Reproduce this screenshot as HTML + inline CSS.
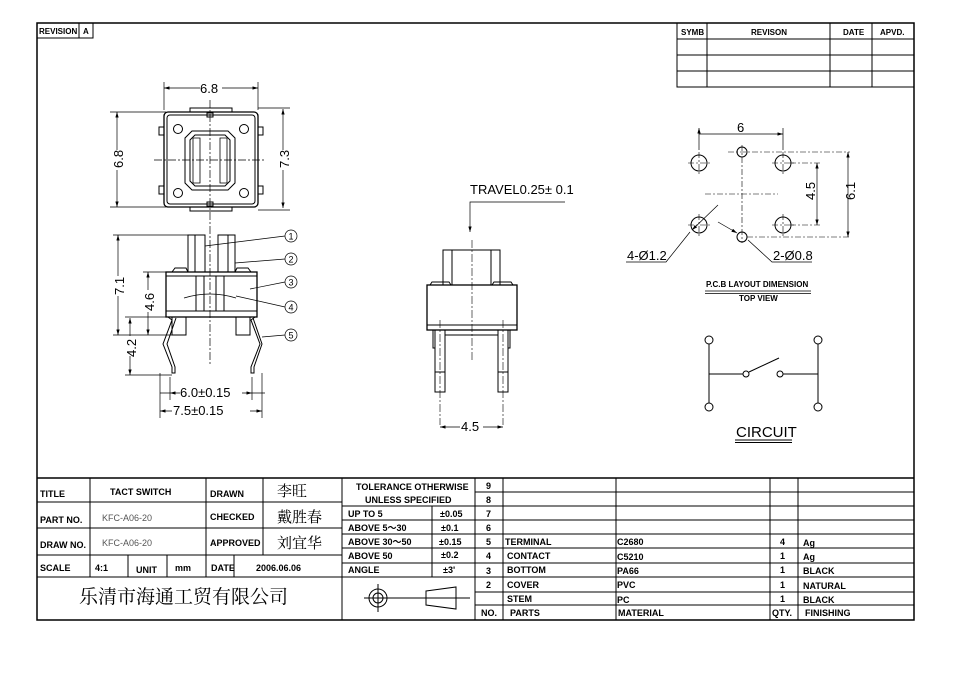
<!DOCTYPE html>
<html><head><meta charset="utf-8"><style>
html,body{margin:0;padding:0;background:#fff;}
svg{display:block;}
text{font-family:"Liberation Sans","Noto Sans CJK SC",sans-serif;fill:#000;}
.s{font-size:9px;font-weight:bold;}
.d{font-size:13px;}
</style></head><body>
<svg width="960" height="680" viewBox="0 0 960 680" xmlns="http://www.w3.org/2000/svg">
<defs>
<marker id="a" viewBox="0 0 10 6" refX="10" refY="3" markerWidth="8" markerHeight="5" orient="auto-start-reverse"><path d="M0,0L10,3L0,6z" fill="#000"/></marker>
</defs>
<g fill="none" stroke="#000">
<rect x="37" y="23" width="877" height="597" stroke-width="1.5"/>
<path d="M37,38H93V23M79,23V38"/>
<path d="M677,23V87H914M677,39H914M677,55H914M677,71H914M707,23V87M830,23V87M872,23V87"/>
<path d="M37,478H914" stroke-width="1.5"/>
<path d="M37,502H342M37,528H342M37,555H342M37,577H475"/>
<path d="M90,478V577M128,555V577M167,555V577M206,478V577M263,478V555M234,555V577M342,478V620M475,478V620"/>
<path d="M342,506H475M342,520H475M342,534H475M342,548H475M342,563H475M432,506V577"/>
<path d="M475,492H914M475,506H914M475,520H914M475,534H914M475,548H914M475,563H914M475,577H914M475,592H914M475,605H914"/>
<path d="M503,478V620M616,478V620M770,478V620M798,478V620"/>
<circle cx="378" cy="598" r="9"/><circle cx="378" cy="598" r="5"/>
<path d="M364,598H470M378,584V612M426,591L456,587V609L426,605Z"/>

<g stroke-width="1">
<rect x="164" y="112" width="94" height="95" rx="4" stroke-width="1.3"/>
<rect x="167" y="115" width="88" height="89" rx="3"/>
<path d="M190,112V108H232V112M190,207V211H232V207"/>
<rect x="159" y="127" width="5" height="8"/><rect x="258" y="127" width="5" height="8"/>
<rect x="159" y="186" width="5" height="8"/><rect x="258" y="186" width="5" height="8"/>
<rect x="207" y="113" width="6" height="4"/><rect x="207" y="202" width="6" height="4"/>
<path d="M192,131H228L235,138V183L228,190H192L185,183V138Z"/>
<path d="M195,135H225L230,140V181L225,186H195L190,181V140Z"/>
<path d="M193,138H200V183H193ZM220,138H227V183H220Z" stroke-width="0.8"/>
<circle cx="178" cy="129" r="4.5"/><circle cx="244" cy="129" r="4.5"/>
<circle cx="178" cy="193" r="4.5"/><circle cx="244" cy="193" r="4.5"/>
<path d="M154,160H265M210,100V365" stroke-dasharray="8,2,2,2" stroke-width="0.7"/>
</g>
<g stroke-width="0.7">
<path d="M164,82V110M258,82V110M110,112H166M110,207H166M258,108H290M258,210H290"/>
<path d="M164,88H200M222,88H258" marker-start="url(#a)" marker-end="url(#a)"/>
<path d="M117,112V150M117,170V207" marker-start="url(#a)" marker-end="url(#a)"/>
<path d="M283,109V150M283,170V208" marker-start="url(#a)" marker-end="url(#a)"/>
</g>
<g stroke-width="1">
<rect x="188" y="235" width="17" height="37"/><rect x="218" y="235" width="17" height="37"/>
<path d="M195,235V272M228,235V272"/>
<rect x="166" y="272" width="91" height="45" stroke-width="1.3"/>
<path d="M166,276H257M166,311H257M196,276V311M204,276V311M216,276V311M224,276V311"/>
<path d="M172,272L175,268H186L188,272M235,272L237,268H248L251,272"/>
<path d="M184,298Q210,290 236,298" stroke-width="0.7"/>
<path d="M172,317V335H186V317M236,317V335H250V317"/>
<path d="M168,317L172,320L163,344L172,367V373H175V367L167,344L176,318M255,317L251,320L260,344L251,367V373H254V367L262,344L253,318"/>
</g>
<g stroke-width="0.7">
<path d="M205,246L285,236M235,263L285,259M250,289L285,282M236,296L285,307M262,337L285,335"/>
<circle cx="291" cy="236" r="6"/><circle cx="291" cy="259" r="6"/><circle cx="291" cy="282" r="6"/><circle cx="291" cy="307" r="6"/><circle cx="291" cy="335" r="6"/>
<path d="M113,235H188M143,272H166M125,317H166M113,335H172M125,375H172"/>
<path d="M118,235V276M118,296V335" marker-start="url(#a)" marker-end="url(#a)"/>
<path d="M148,272V290M148,312V335" marker-start="url(#a)" marker-end="url(#a)"/>
<path d="M130,318V336M130,356V375" marker-start="url(#a)" marker-end="url(#a)"/>
<path d="M170,377V400M252,377V400M160,373V418M262,373V418"/>
<path d="M160,393H170M252,393H265" />
<path d="M170,393H180M242,393H252" marker-start="url(#a)" marker-end="url(#a)"/>
<path d="M160,411H172M250,411H262" marker-start="url(#a)" marker-end="url(#a)"/>
</g>
<g stroke-width="1">
<rect x="443" y="250" width="57" height="35"/><path d="M452,250V285M491,250V285"/>
<path d="M430,285L432,282H449L451,285M492,285L494,282H511L513,285"/>
<rect x="427" y="285" width="90" height="45" stroke-width="1.3"/><path d="M427,325H517"/>
<rect x="435" y="330" width="10" height="62"/><rect x="498" y="330" width="10" height="62"/>
<path d="M435,372H445M498,372H508M433,330V348H435M445,330V335H498V330M508,348H510V330"/>
<path d="M472,240V362M440,320V425M503,320V425" stroke-dasharray="8,2,2,2" stroke-width="0.6"/>
</g>
<g stroke-width="0.7">
<path d="M565,202H470V232" marker-end="url(#a)"/>
<path d="M440,427H460M483,427H503" marker-start="url(#a)" marker-end="url(#a)"/>
</g>
<g stroke-width="1">
<circle cx="699" cy="163" r="8"/><circle cx="783" cy="163" r="8"/>
<circle cx="699" cy="225" r="8"/><circle cx="783" cy="225" r="8"/>
<circle cx="742" cy="152" r="5"/><circle cx="742" cy="237" r="5"/>
</g>
<g stroke-width="0.6" stroke-dasharray="6,2,2,2">
<path d="M688,163H710M772,163H794M688,225H710M772,225H794M699,152V174M783,152V174M699,214V236M783,214V236"/>
<path d="M742,145V243M728,152H850M705,194H778M747,237H850M790,163H820M790,225H820"/>
</g>
<g stroke-width="0.7">
<path d="M699,128V150M783,128V150M699,134H783" marker-start="url(#a)" marker-end="url(#a)"/>
<path d="M817,163V225" marker-start="url(#a)" marker-end="url(#a)"/>
<path d="M848,152V237" marker-start="url(#a)" marker-end="url(#a)"/>
<path d="M718,205L692,230" marker-end="url(#a)"/>
<path d="M626,262H666L690,232"/>
<path d="M718,222L737,233" marker-end="url(#a)"/>
<path d="M748,240L772,262H812"/>
<path d="M705,291H811M705,293.5H811"/>
</g>
<g stroke-width="1">
<circle cx="709" cy="340" r="4"/><circle cx="709" cy="407" r="4"/><circle cx="818" cy="340" r="4"/><circle cx="818" cy="407" r="4"/>
<path d="M709,344V403M818,344V403M709,374H743M783,374H818M749,372L779,358"/>
<circle cx="746" cy="374" r="3"/><circle cx="780" cy="374" r="3"/>
<path d="M735,440H792M735,442.5H792"/>
</g>
</g>
<g style="font-size:9px" text-anchor="middle">
<text x="291" y="239.5">1</text><text x="291" y="262.5">2</text><text x="291" y="285.5">3</text><text x="291" y="310.5">4</text><text x="291" y="338.5">5</text>
</g>
<g class="s">
<text x="39" y="34" style="font-size:8px">REVISION</text><text x="83" y="34" style="font-size:8px">A</text>
<text x="681" y="35" style="font-size:8px">SYMB</text><text x="751" y="35" style="font-size:8px">REVISON</text><text x="843" y="35" style="font-size:8px">DATE</text><text x="880" y="35" style="font-size:8px">APVD.</text>
<text x="40" y="497">TITLE</text><text x="110" y="495">TACT SWITCH</text><text x="210" y="497">DRAWN</text>
<text x="40" y="523">PART NO.</text><text x="210" y="520">CHECKED</text>
<text x="40" y="548">DRAW NO.</text><text x="210" y="546">APPROVED</text>
<text x="40" y="571">SCALE</text><text x="95" y="571">4:1</text><text x="136" y="573">UNIT</text><text x="175" y="571">mm</text><text x="211" y="571">DATE</text><text x="256" y="571">2006.06.06</text>
<text x="356" y="490">TOLERANCE OTHERWISE</text><text x="365" y="503">UNLESS SPECIFIED</text>
<text x="348" y="517">UP TO 5</text><text x="440" y="517">±0.05</text>
<text x="348" y="531">ABOVE 5～30</text><text x="441" y="531">±0.1</text>
<text x="348" y="545">ABOVE 30～50</text><text x="439" y="545">±0.15</text>
<text x="348" y="559">ABOVE 50</text><text x="441" y="558">±0.2</text>
<text x="348" y="573">ANGLE</text><text x="443" y="573">±3'</text>
<text x="486" y="489">9</text><text x="486" y="503">8</text><text x="486" y="517">7</text><text x="486" y="531">6</text><text x="486" y="545">5</text><text x="486" y="559">4</text><text x="486" y="574">3</text><text x="486" y="588">2</text><text x="481" y="616">NO.</text>
<text x="505" y="545">TERMINAL</text><text x="507" y="559">CONTACT</text><text x="507" y="573">BOTTOM</text><text x="507" y="588">COVER</text><text x="507" y="602">STEM</text><text x="510" y="616">PARTS</text>
<text x="617" y="545">C2680</text><text x="617" y="560">C5210</text><text x="617" y="574">PA66</text><text x="617" y="588">PVC</text><text x="617" y="603">PC</text><text x="618" y="616">MATERIAL</text>
<text x="780" y="545">4</text><text x="780" y="559">1</text><text x="780" y="573">1</text><text x="780" y="588">1</text><text x="780" y="602">1</text><text x="772" y="616">QTY.</text>
<text x="803" y="546">Ag</text><text x="803" y="560">Ag</text><text x="803" y="574">BLACK</text><text x="803" y="589">NATURAL</text><text x="803" y="603">BLACK</text><text x="805" y="616">FINISHING</text>
<text x="706" y="287" style="font-size:8px">P.C.B LAYOUT DIMENSION</text><text x="739" y="301" style="font-size:8px">TOP VIEW</text>
</g>
<g style="font-size:9px">
<text x="102" y="521" style="fill:#555">KFC-A06-20</text><text x="102" y="546" style="fill:#555">KFC-A06-20</text>
</g>
<g>
<text x="277" y="496" style="font-family:'Noto Serif CJK SC',serif;font-size:15px">李旺</text><text x="277" y="522" style="font-family:'Noto Serif CJK SC',serif;font-size:15px">戴胜春</text><text x="277" y="548" style="font-family:'Noto Serif CJK SC',serif;font-size:15px">刘宜华</text>
<text x="79" y="603" style="font-family:'Noto Serif CJK SC',serif;font-size:19px">乐清市海通工贸有限公司</text>
</g>
<g class="d">
<text x="200" y="93">6.8</text>
<text transform="translate(123,168) rotate(-90)">6.8</text>
<text transform="translate(289,168) rotate(-90)">7.3</text>
<text transform="translate(124,295) rotate(-90)">7.1</text>
<text transform="translate(154,311) rotate(-90)">4.6</text>
<text transform="translate(136,357) rotate(-90)">4.2</text>
<text x="180" y="397">6.0±0.15</text>
<text x="173" y="415">7.5±0.15</text>
<text x="470" y="194">TRAVEL0.25± 0.1</text>
<text x="461" y="431">4.5</text>
<text x="737" y="132">6</text>
<text transform="translate(815,200) rotate(-90)">4.5</text>
<text transform="translate(855,200) rotate(-90)">6.1</text>
<text x="627" y="260">4-Ø1.2</text>
<text x="773" y="260">2-Ø0.8</text>
<text x="736" y="437" style="font-size:15px">CIRCUIT</text>
</g>
</svg>
</body></html>
